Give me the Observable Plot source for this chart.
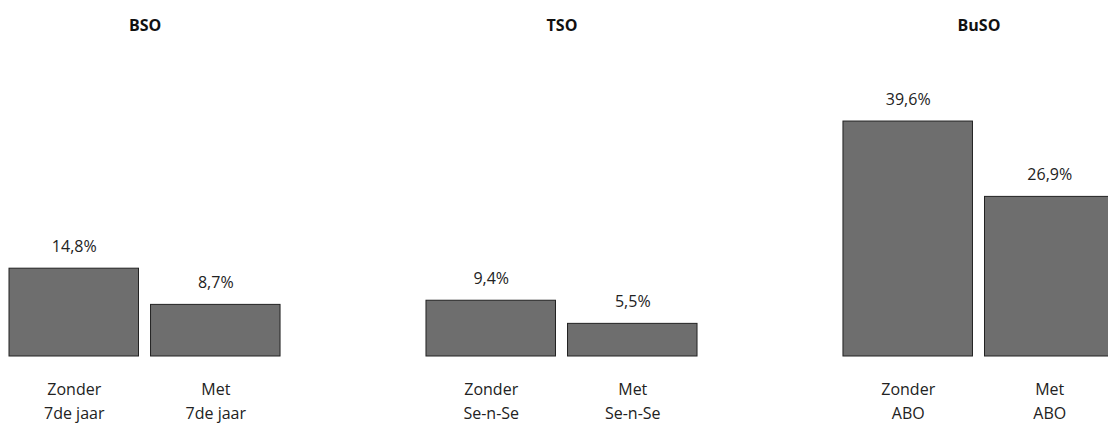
<!DOCTYPE html>
<html><head><meta charset="utf-8">
<script src="https://cdn.jsdelivr.net/npm/d3@7"></script>
<script src="https://cdn.jsdelivr.net/npm/@observablehq/plot@0.6"></script>
<style>
html,body{margin:0;padding:0;overflow:hidden;background:#fff;width:1108px}
#chart{width:1108px;height:423px;overflow:hidden;position:relative}
#chart svg{position:absolute;left:0;top:0;max-width:none}
</style>
</head><body><div id="chart"></div>
<script>
const groups = ["BSO", "TSO", "BuSO"];
const categories = ["Zonder", "Met"];
const programmes = ["7de jaar", "Se-n-Se", "ABO"];
const zonderValues = [14.8, 9.4, 39.6];
const metValues = [8.7, 5.5, 26.9];

const data = groups.flatMap((g, i) => [
  {group: g, cat: "Zonder", value: zonderValues[i], label: `Zonder\n${programmes[i]}`},
  {group: g, cat: "Met", value: metValues[i], label: `Met\n${programmes[i]}`}
]);
const fmt = v => v.toFixed(1).replace(".", ",") + "%";

const chart = Plot.plot({
  width: 1114, height: 423,
  marginLeft: 9, marginRight: 0, marginTop: 0, marginBottom: 67,
  style: {fontFamily: "'Open Sans', sans-serif", fontSize: "16px", color: "#222", background: "#fff", maxWidth: "none"},
  fx: {domain: groups, paddingInner: 0.35, paddingOuter: 0, round: false, axis: null},
  x: {domain: categories, paddingInner: 0.085, paddingOuter: 0, round: false, axis: null},
  y: {domain: [0, 60], axis: null},
  marks: [
    Plot.barY(data, {fx: "group", x: "cat", y: "value", fill: "#6e6e6e", stroke: "#222", strokeWidth: 1}),
    Plot.text(data, {fx: "group", x: "cat", y: "value", text: d => fmt(d.value), dy: -22, lineAnchor: "middle", fontSize: 16, fill: "#222"}),
    Plot.text(data, {fx: "group", x: "cat", y: 0, text: "label", dy: 43, lineAnchor: "middle", lineHeight: 1.45, fontSize: 16, fill: "#222"}),
    Plot.text(groups, {fx: d => d, text: d => d, frameAnchor: "top", dy: 25, lineAnchor: "middle", fontWeight: "bold", fontSize: 16, fill: "#111"})
  ]
});
document.getElementById("chart").appendChild(chart);
</script>
</body></html>
